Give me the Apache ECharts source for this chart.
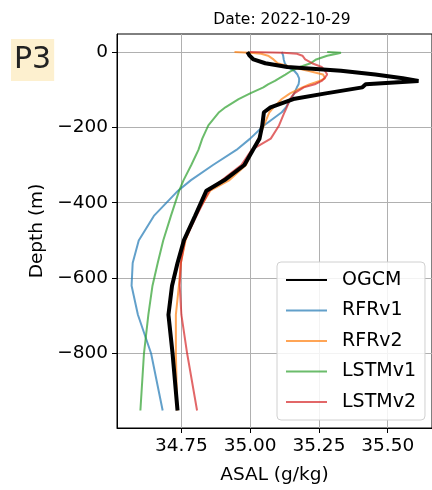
<!DOCTYPE html>
<html>
<head>
<meta charset="utf-8">
<script src="https://cdn.jsdelivr.net/npm/echarts@6/dist/echarts.min.js"></script>
<style>
  html, body { margin: 0; padding: 0; background: #fff; }
  #chart { width: 432px; height: 490px; }
</style>
</head>
<body>
<div id="chart"></div>
<script>
// depth levels (m, negative down)
const depth = [0, -2, -5, -10, -20, -30, -40, -50, -60, -70, -77, -86, -94, -110, -125,
  -147, -160, -195, -230, -260, -300, -340, -368, -435, -500, -560, -620, -697, -800, -951];

// absolute salinity (g/kg) at those levels
const ogcm = [34.990, 34.992, 34.995, 34.998, 35.012, 35.055, 35.135, 35.330, 35.455, 35.555, 35.612,
  35.420, 35.408, 35.275, 35.157, 35.074, 35.050, 35.044, 35.034, 35.010, 34.979, 34.907, 34.841,
  34.800, 34.759, 34.736, 34.716, 34.703, 34.718, 34.736];
const rfrv1 = [35.115, 35.116, 35.118, 35.120, 35.122, 35.126, 35.135, 35.160, 35.172, 35.178, 35.178,
  35.176, 35.170, 35.160, 35.148, 35.130, 35.115, 35.050, 35.000, 34.950, 34.865, 34.785, 34.738,
  34.650, 34.595, 34.573, 34.569, 34.592, 34.640, 34.682];
const rfrv2 = [34.943, 35.000, 35.040, 35.065, 35.085, 35.100, 35.150, 35.210, 35.265, 35.272, 35.252,
  35.215, 35.190, 35.145, 35.115, 35.085, 35.070, 35.050, 35.030, 35.010, 34.985, 34.925, 34.855,
  34.800, 34.765, 34.748, 34.741, 34.730, 34.730, 34.735];
const lstmv1 = [35.280, 35.330, 35.315, 35.280, 35.240, 35.220, 35.180, 35.150, 35.128, 35.105, 35.090,
  35.065, 35.048, 35.000, 34.958, 34.910, 34.887, 34.848, 34.826, 34.812, 34.786, 34.758, 34.742,
  34.712, 34.684, 34.664, 34.645, 34.630, 34.614, 34.601];
const lstmv2 = [35.000, 35.120, 35.170, 35.190, 35.200, 35.225, 35.260, 35.272, 35.280, 35.270, 35.260,
  35.235, 35.195, 35.160, 35.145, 35.133, 35.125, 35.105, 35.075, 35.005, 34.968, 34.898, 34.852,
  34.805, 34.763, 34.748, 34.744, 34.750, 34.771, 34.807];

const xTicks = [34.75, 35.00, 35.25, 35.50];
const yTicks = [0, -200, -400, -600, -800];

const font = 'DejaVu Sans';
const chart = echarts.init(document.getElementById('chart'), null, { renderer: 'canvas' });

function pairs(vals) {
  return depth.map((d, i) => [vals[i], d]);
}

function model(name, vals, color) {
  return {
    name: name,
    type: 'line',
    data: pairs(vals),
    symbol: 'none',
    color: color,
    lineStyle: { width: 2, color: color, opacity: 0.7 },
    z: 2
  };
}

chart.setOption({
  animation: false,
  textStyle: { fontFamily: font },
  title: [
    {
      text: 'Date: 2022-10-29',
      left: 277, top: 7, textAlign: 'center',
      textStyle: { fontFamily: font, fontSize: 15.5, fontWeight: 'normal', color: '#000' }
    },
    {
      text: 'P3',
      left: 11, top: 39,
      backgroundColor: '#fdf0cf',
      padding: [6, 3, 6, 3],
      textStyle: { fontFamily: font, fontSize: 30, fontWeight: 'normal', color: '#222' }
    }
  ],
  grid: {
    left: 117, top: 34, right: -6, bottom: 58,
    show: true, borderColor: '#000', borderWidth: 1
  },
  legend: {
    orient: 'vertical',
    left: 277, top: 262,
    padding: [8, 9, 8, 8],
    itemGap: 10.5,
    itemWidth: 41, itemHeight: 14,
    itemStyle: { opacity: 0, borderWidth: 0 },
    backgroundColor: 'rgba(255,255,255,0.85)',
    borderColor: '#d0d0d0', borderWidth: 1, borderRadius: 4,
    textStyle: { fontFamily: font, fontSize: 19, color: '#000', padding: [0, 0, 0, 10], lineHeight: 20 },
    data: ['OGCM', 'RFRv1', 'RFRv2', 'LSTMv1', 'LSTMv2']
  },
  xAxis: {
    type: 'value',
    min: 34.516, max: 35.661,
    name: 'ASAL (g/kg)',
    nameLocation: 'middle',
    nameGap: 38,
    nameTextStyle: { fontFamily: font, fontSize: 18.5, color: '#000' },
    axisLine: { show: true, onZero: false, lineStyle: { color: '#000', width: 1 } },
    axisTick: { show: true, length: 5, customValues: xTicks, lineStyle: { color: '#000' } },
    axisLabel: {
      customValues: xTicks, margin: 9,
      fontFamily: font, fontSize: 18.5, color: '#000',
      formatter: v => v.toFixed(2)
    },
    splitLine: { show: true, lineStyle: { color: '#b0b0b0', width: 1 } }
  },
  yAxis: {
    type: 'value',
    min: -997.5, max: 47.5,
    name: 'Depth (m)',
    nameLocation: 'middle',
    nameGap: 70,
    nameTextStyle: { fontFamily: font, fontSize: 18.5, color: '#000' },
    axisLine: { show: true, onZero: false, lineStyle: { color: '#000', width: 1 } },
    axisTick: { show: true, length: 5, customValues: yTicks, lineStyle: { color: '#000' } },
    axisLabel: {
      customValues: yTicks, margin: 9,
      fontFamily: font, fontSize: 18.5, color: '#000',
      formatter: v => String(v).replace('-', '\u2212')
    },
    splitLine: { show: true, lineStyle: { color: '#b0b0b0', width: 1 } }
  },
  series: [
    {
      name: 'OGCM',
      type: 'line',
      data: pairs(ogcm),
      symbol: 'none',
      color: '#000',
      lineStyle: { width: 4, color: '#000' },
      z: 5
    },
    model('RFRv1', rfrv1, '#1f77b4'),
    model('RFRv2', rfrv2, '#ff7f0e'),
    model('LSTMv1', lstmv1, '#2ca02c'),
    model('LSTMv2', lstmv2, '#d62728')
  ]
});
</script>
</body>
</html>
